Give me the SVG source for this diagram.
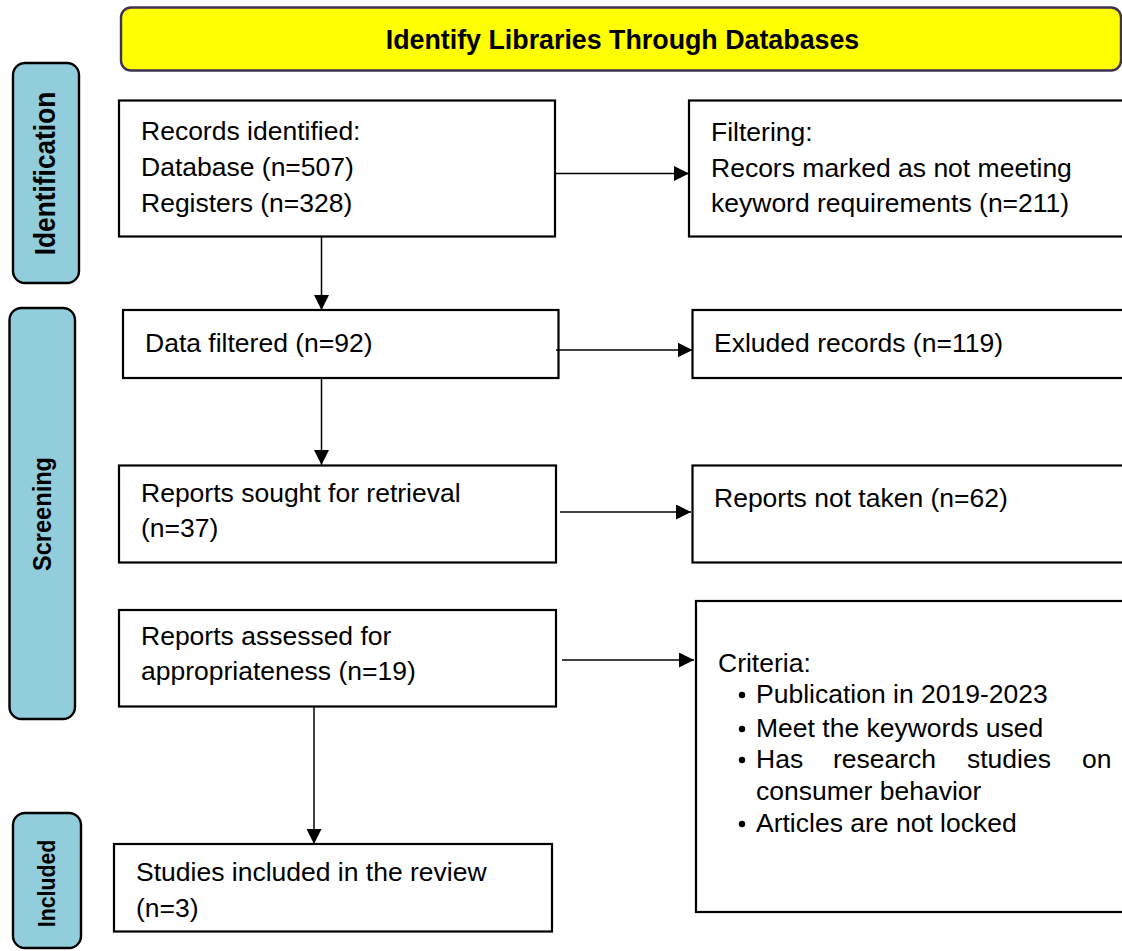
<svg xmlns="http://www.w3.org/2000/svg" width="1122" height="951" viewBox="0 0 1122 951">
<style>
.box{fill:#fff;stroke:#000;stroke-width:2.2}
.side{fill:#92cddc;stroke:#000;stroke-width:2.4}
.t{font-family:"Liberation Sans",Arial,sans-serif;font-size:26.5px;fill:#000}
.sl{font-family:"Liberation Sans",Arial,sans-serif;font-weight:bold;fill:#000;text-anchor:middle}
.con{stroke:#000;stroke-width:1.5;fill:none;marker-end:url(#ah)}
</style>
<defs>
<marker id="ah" markerUnits="userSpaceOnUse" markerWidth="15" markerHeight="15" refX="15" refY="7.5" orient="auto">
<path d="M0,0 L15,7.5 L0,15 z" fill="#000"/>
</marker>
</defs>
<rect width="1122" height="951" fill="#fff"/>

<g id="title">
<rect x="121" y="7.5" width="1000" height="63" rx="10" fill="#ffff00" stroke="#3f3151" stroke-width="2.4"/>
<text x="622.5" y="49" class="sl" font-size="26.8">Identify Libraries Through Databases</text>
</g>

<g id="side-identification">
<rect x="13" y="63" width="66" height="220" rx="12" class="side"/>
<text class="sl" font-size="26.3" transform="translate(55,173.5) rotate(-90) scale(1,1.1)">Identification</text>
</g>
<g id="side-screening">
<rect x="9.5" y="308" width="65.5" height="411" rx="12" class="side"/>
<text class="sl" font-size="23.6" transform="translate(51,514) rotate(-90) scale(1,1.1)">Screening</text>
</g>
<g id="side-included">
<rect x="13" y="813" width="68" height="135" rx="12" class="side"/>
<text class="sl" font-size="21.3" transform="translate(54.5,883.5) rotate(-90) scale(1,1.1)">Included</text>
</g>

<g id="records">
<rect x="119" y="100.5" width="436" height="136" class="box"/>
<text class="t" x="141" y="140">Records identified:</text>
<text class="t" x="141" y="176">Database (n=507)</text>
<text class="t" x="141" y="212">Registers (n=328)</text>
</g>
<g id="filtering">
<rect x="689" y="100.5" width="450" height="136" class="box"/>
<text class="t" x="711" y="141">Filtering:</text>
<text class="t" x="711" y="177">Recors marked as not meeting</text>
<text class="t" x="711" y="212">keyword requirements (n=211)</text>
</g>
<g id="data-filtered">
<rect x="123" y="310" width="435.5" height="68" class="box"/>
<text class="t" x="145" y="352">Data filtered (n=92)</text>
</g>
<g id="excluded">
<rect x="692.5" y="310" width="450" height="68" class="box"/>
<text class="t" x="714" y="352">Exluded records (n=119)</text>
</g>
<g id="reports-sought">
<rect x="119" y="465.5" width="437" height="97" class="box"/>
<text class="t" x="141" y="502">Reports sought for retrieval</text>
<text class="t" x="141" y="537">(n=37)</text>
</g>
<g id="reports-not-taken">
<rect x="692.5" y="465.5" width="450" height="97" class="box"/>
<text class="t" x="714" y="507">Reports not taken (n=62)</text>
</g>
<g id="reports-assessed">
<rect x="119" y="610" width="437" height="96.5" class="box"/>
<text class="t" x="141" y="645">Reports assessed for</text>
<text class="t" x="141" y="680">appropriateness (n=19)</text>
</g>
<g id="criteria">
<rect x="696" y="601" width="450" height="311" class="box"/>
<text class="t" x="718" y="672">Criteria:</text>
<g fill="#000">
<circle cx="742" cy="695" r="3.2"/>
<circle cx="742" cy="729" r="3.2"/>
<circle cx="742" cy="760" r="3.2"/>
<circle cx="742" cy="824" r="3.2"/>
</g>
<text class="t" x="756" y="703">Publication in 2019-2023</text>
<text class="t" x="756" y="737">Meet the keywords used</text>
<text class="t" y="768"><tspan x="756">Has</tspan><tspan x="833">research</tspan><tspan x="967">studies</tspan><tspan x="1082">on</tspan></text>
<text class="t" x="756" y="800">consumer behavior</text>
<text class="t" x="756" y="832">Articles are not locked</text>
</g>
<g id="studies-included">
<rect x="114" y="844" width="438" height="87.5" class="box"/>
<text class="t" x="136" y="881">Studies included in the review</text>
<text class="t" x="136" y="917">(n=3)</text>
</g>

<g id="connectors">
<path class="con" d="M555,173.5 H689"/>
<path class="con" d="M321.5,237 V310"/>
<path class="con" d="M556,350 H692.5"/>
<path class="con" d="M321.5,378 V465"/>
<path class="con" d="M560,512 H691"/>
<path class="con" d="M562,660 H694"/>
<path class="con" d="M314,706.5 V844"/>
</g>
</svg>
